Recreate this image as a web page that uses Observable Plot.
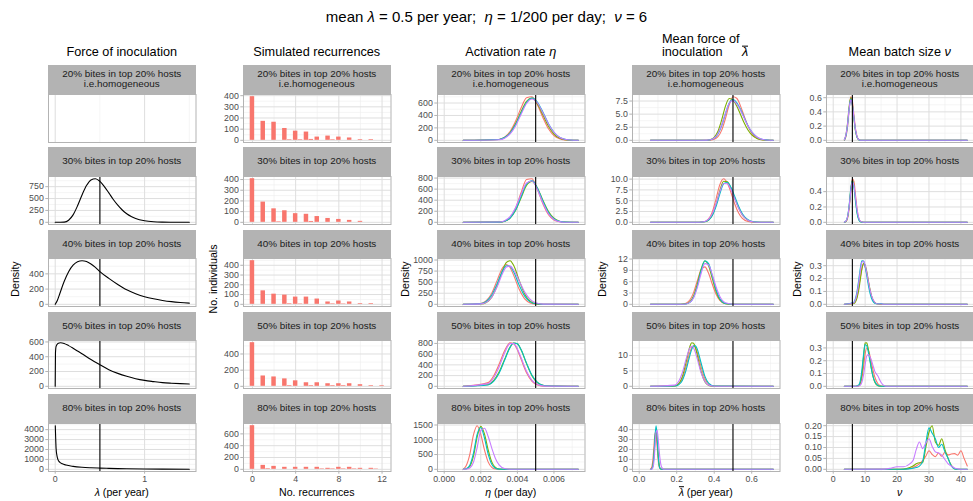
<!DOCTYPE html>
<html>
<head>
<meta charset="utf-8">
<script src="https://cdn.jsdelivr.net/npm/d3@7"></script>
<script src="https://cdn.jsdelivr.net/npm/@observablehq/plot@0.6"></script>
<style>
html,body{margin:0;padding:0;background:#fff;}
#fig{position:relative;width:973px;height:501px;overflow:hidden;background:#fff;font-family:"Liberation Sans",Arial,Helvetica,sans-serif;color:#000;}
.t{position:absolute;white-space:pre;line-height:1;transform:translate(-50%,-50%);}
.strip{position:absolute;background:#b3b3b3;color:#1a1a1a;font-size:9.9px;line-height:1.05;display:flex;align-items:center;justify-content:center;text-align:center;white-space:pre-line;}
.p{position:absolute;}
.ol{display:inline-block;border-top:1px solid currentColor;line-height:0.78;padding-top:1px;}
</style>
</head>
<body>
<div id="fig"></div>
<script>
// ---------------- DATA ----------------
const rowLabels = ["20% bites in top 20% hosts\ni.e.homogeneous","30% bites in top 20% hosts","40% bites in top 20% hosts","50% bites in top 20% hosts","80% bites in top 20% hosts"];
const seriesColors = ["#F8766D","#7CAE00","#00BFC4","#C77CFF"];
const refValues = [0.5, null, 0.005, 0.5, 6];

// Column 1: force of inoculation (lambda, density)
const foiX = [
  [],
  [0,0.1,0.15,0.2,0.25,0.3,0.35,0.4,0.45,0.5,0.55,0.6,0.65,0.7,0.75,0.8,0.85,0.9,1.0,1.1,1.2,1.3,1.5],
  [0,0.025,0.05,0.1,0.15,0.2,0.25,0.3,0.35,0.4,0.45,0.5,0.6,0.7,0.8,0.9,1.0,1.1,1.2,1.3,1.4,1.5],
  [0,0.003,0.01,0.03,0.06,0.1,0.15,0.2,0.3,0.4,0.5,0.6,0.7,0.8,0.9,1.0,1.1,1.2,1.3,1.4,1.5],
  [0.001,0.005,0.01,0.02,0.03,0.05,0.08,0.12,0.2,0.3,0.4,0.5,0.6,0.7,0.8,1.0,1.2,1.5]
];
const foiY = [
  [],
  [0,5,44,156,348,576,773,892,918,862,752,619,480,361,259,180,122,80,33,12,4,1.5,0],
  [0,54,136,300,429,514,560,573,562,530,485,430,340,260,190,140,100,72,51,35,24,16],
  [0,450,540,580,590,580,550,515,440,362,292,225,175,135,103,80,64,50,42,36,31],
  [4400,3200,2100,1350,1000,720,550,430,300,210,160,125,95,70,50,30,18,8]
];

// Column 2: simulated recurrences (histogram bins)
const binWidth = 12/29;
const recX = [
  [0,1,2,3,3.45,4,4.45,5,5.45,6,7,7.45,8,9,10,11],
  [0,1,2,2.45,3,4,5,5.45,6,7,8,9,10],
  [0,1,2,3,3.45,4,4.45,5,6,7,7.45,8,8.45,9,10,11],
  [0,1,2,3,3.45,4,5,5.45,6,7,7.45,8,8.45,9,10,11,12],
  [0,1,1.45,2,3,4,5,6,6.45,7,7.45,8,8.45,9,9.45,10,11,11.45]
];
const recN = [
  [391,170,162,106,5,82,5,74,8,29,38,5,29,21,6,6],
  [408,189,126,5,108,81,75,8,54,36,27,18,9],
  [447,138,104,94,6,74,4,74,54,24,5,34,4,24,7,7],
  [540,128,116,92,8,68,44,8,44,32,8,32,8,32,20,8,8],
  [739,67,10,50,34,34,34,34,8,17,8,34,8,34,8,17,17,6]
];

// Column 3: activation rate eta (per day)
const etaX = [
  [0.00104,0.0030,0.0033,0.0036,0.0039,0.0042,0.0045,0.0048,0.0051,0.0054,0.0057,0.0060,0.0063,0.0066,0.0069,0.00733],
  [0.00104,0.0030,0.0033,0.0036,0.0039,0.0042,0.0045,0.0048,0.0051,0.0054,0.0057,0.0060,0.0063,0.0066,0.00733],
  [0.00104,0.0020,0.0023,0.0026,0.0029,0.0032,0.0034,0.0036,0.0038,0.0041,0.0044,0.0047,0.0050,0.0054,0.00733],
  [0.00104,0.0024,0.0027,0.0030,0.0033,0.0036,0.0038,0.0040,0.0042,0.0045,0.0048,0.0051,0.0055,0.00733],
  [0.00104,0.0012,0.0014,0.0016,0.0018,0.0020,0.0022,0.0024,0.0026,0.0028,0.0030,0.0033,0.0037,0.00733]
];
const etaRed = [
  [0,14,51,141,307,519,684,702,569,364,185,74,24,6,1,0],
  [0,3,20,86,257,534,775,789,592,330,136,42,10,2,0],
  [0,18,80,250,546,831,900,831,653,338,122,31,5,0,0],
  [0,69,193,411,664,814,796,681,507,252,93,25,3,0],
  [8,123,509,1166,1477,1185,660,253,68,12,1,0,0,0]
];
const etaGreen = [
  [0,13,44,122,266,459,627,678,585,406,226,101,36,10,2,0],
  [0,4,20,76,214,440,665,737,617,395,194,73,21,4,0],
  [0,8,43,163,425,775,946,985,874,541,234,70,15,1,0],
  [0,33,107,265,503,731,809,792,681,423,195,67,10,0],
  [0,13,101,445,1086,1460,1201,668,251,64,11,0,0,0]
];
const etaCyan = [
  [0,13,44,117,253,438,609,680,613,450,268,130,51,16,4,0],
  [0,4,20,78,223,461,692,754,616,381,179,64,17,3,0],
  [0,15,67,210,472,761,870,857,728,432,184,56,12,1,0],
  [0,26,92,244,485,726,809,793,685,433,205,72,12,0],
  [0,20,141,548,1184,1418,1060,522,170,36,5,0,0,0]
];
const etaPurple = [
  [0,10,35,102,232,416,592,665,600,440,263,127,50,16,4,0],
  [0,6,30,103,264,503,711,748,589,348,154,52,13,2,0],
  [0,9,44,160,403,709,845,862,774,528,275,111,34,4,0],
  [0,50,155,360,622,797,797,698,536,281,110,32,4,0],
  [0,5,44,238,734,1307,1388,1119,719,368,150,26,1,0]
];

// Column 4: mean force of inoculation lambda-bar (per year)
const lbarX = [
  [0.06,0.33,0.36,0.38,0.40,0.42,0.44,0.46,0.48,0.50,0.52,0.54,0.56,0.58,0.60,0.63,0.66,0.70,0.715],
  [0.06,0.32,0.35,0.37,0.39,0.41,0.43,0.45,0.47,0.49,0.51,0.53,0.55,0.58,0.61,0.65,0.715],
  [0.06,0.22,0.25,0.27,0.29,0.31,0.33,0.35,0.37,0.39,0.41,0.43,0.46,0.50,0.715],
  [0.06,0.19,0.21,0.23,0.25,0.27,0.28,0.29,0.30,0.31,0.33,0.35,0.37,0.40,0.715],
  [0.06,0.065,0.07,0.075,0.08,0.085,0.09,0.095,0.10,0.105,0.11,0.12,0.13,0.14,0.715]
];
const lbarRed = [
  [0,0,0.01,0.04,0.19,0.69,1.95,4.17,6.76,8.33,8.03,6.58,4.59,2.73,1.38,0.37,0.07,0,0],
  [0,0.01,0.18,0.79,2.42,5.45,8.73,10.1,9.1,6.79,4.19,2.14,0.9,0.17,0.02,0,0],
  [0,0.02,0.31,1.15,3.11,6.24,9.17,9.92,8.23,5.31,2.67,1.05,0.16,0,0],
  [0,0.13,0.7,2.52,6.34,10.98,12.6,13.2,12.6,10.98,6.34,2.52,0.7,0.05,0],
  [0,1.33,5.14,14.1,27.1,37,35.7,24.4,11.8,4.0,1.0,0.02,0,0,0]
];
const lbarGreen = [
  [0,0,0.02,0.13,0.56,1.73,3.93,6.52,7.97,7.66,6.53,4.94,3.31,1.98,1.05,0.32,0.08,0,0],
  [0,0.01,0.12,0.52,1.72,4.12,7.32,9.52,9.38,7.8,5.53,3.35,1.72,0.47,0.09,0.01,0],
  [0,0.01,0.13,0.63,2.19,5.36,9.33,11.48,10.22,6.79,3.37,1.24,0.16,0,0],
  [0,0.15,0.82,3.15,7.84,12.91,14.18,14.03,12.51,10.05,4.75,1.47,0.31,0.01,0],
  [0,0.29,1.67,6.54,17.4,31.3,38,31.3,17.4,6.54,1.67,0.03,0,0,0]
];
const lbarCyan = [
  [0,0,0.02,0.11,0.41,1.22,2.81,5.07,7.11,7.79,7.21,5.93,4.33,2.8,1.61,0.56,0.15,0.02,0],
  [0,0.01,0.12,0.5,1.56,3.69,6.59,8.94,9.28,8.04,5.93,3.73,1.99,0.58,0.12,0.01,0],
  [0,0,0.1,0.51,1.89,4.89,8.93,11.57,10.78,7.48,3.87,1.5,0.21,0.01,0],
  [0,0.08,0.48,1.91,5.25,9.98,12.0,13.15,13.15,12.0,7.58,3.31,1.01,0.08,0],
  [0,0.17,1.27,5.95,18.1,35.2,44,35.2,18.1,5.95,1.27,0.02,0,0,0]
];
const lbarPurple = [
  [0,0,0.03,0.12,0.45,1.31,2.96,5.18,7.08,7.58,6.97,5.74,4.23,2.78,1.64,0.6,0.17,0.02,0],
  [0,0.02,0.2,0.72,2.01,4.31,7.11,9.0,8.94,7.5,5.35,3.26,1.69,0.47,0.09,0.01,0],
  [0,0,0.1,0.5,1.76,4.47,8.17,10.78,10.44,7.82,4.58,2.08,0.4,0.02,0],
  [0,0.39,1.56,4.41,8.81,12.45,13.0,12.45,10.93,8.81,4.41,1.56,0.39,0.03,0],
  [0,0.09,0.64,3.2,10.7,24.3,37.3,39.4,32.7,22.1,12.1,1.96,0.14,0,0]
];

// Column 5: mean batch size nu
const nuX = [
  [3.5,4.0,4.5,5.0,5.5,6.0,6.5,7.0,7.5,8.0,8.5,9.5,42],
  [3.5,4.0,4.5,5.0,5.5,6.0,6.5,7.0,7.5,8.0,8.5,9.5,42],
  [3.5,6.5,7.0,7.5,8.0,8.5,9.0,9.5,10.0,10.5,11.0,11.5,12.0,13.0,14.0,15.0,16.0,42],
  [3.5,7.0,8.0,8.5,9.0,9.5,10.0,10.5,11.0,11.5,12.0,12.5,13.0,14.0,15.0,16.0,17.0,42],
  [3.5,16,18,20,22,24,25,26,27,28,29,30,31,32,33,34,35,36,37,38,39,40,41,42]
];
const nuRed = [
  [0.003,0.053,0.192,0.438,0.614,0.555,0.353,0.159,0.051,0.012,0.002,0,0],
  [0.001,0.01,0.052,0.18,0.399,0.569,0.533,0.352,0.164,0.054,0.013,0,0],
  [0,0.01,0.029,0.068,0.133,0.212,0.282,0.31,0.291,0.24,0.175,0.112,0.063,0.014,0.002,0,0,0],
  [0,0,0.004,0.019,0.063,0.15,0.252,0.3,0.284,0.24,0.182,0.123,0.075,0.02,0.003,0,0,0],
  [0,0,0,0,0,0.004,0.008,0.015,0.025,0.04,0.06,0.085,0.068,0.058,0.075,0.06,0.078,0.066,0.07,0.072,0.065,0.085,0.05,0.015]
];
const nuGreen = [
  [0.005,0.081,0.247,0.48,0.6,0.505,0.3,0.126,0.038,0.008,0.001,0,0],
  [0.002,0.013,0.065,0.206,0.42,0.549,0.478,0.294,0.128,0.04,0.009,0,0],
  [0,0.006,0.02,0.052,0.111,0.194,0.276,0.319,0.306,0.256,0.187,0.119,0.066,0.013,0.002,0,0,0],
  [0,0,0.005,0.027,0.097,0.226,0.338,0.341,0.29,0.212,0.134,0.073,0.034,0.005,0,0,0,0],
  [0,0,0,0,0.001,0.008,0.015,0.025,0.03,0.03,0.1,0.17,0.2,0.125,0.11,0.14,0.09,0.05,0.018,0.003,0,0,0,0]
];
const nuCyan = [
  [0.006,0.068,0.218,0.443,0.579,0.504,0.31,0.135,0.042,0.009,0.001,0,0],
  [0.002,0.016,0.073,0.222,0.432,0.54,0.454,0.27,0.114,0.034,0.007,0,0],
  [0,0.017,0.047,0.105,0.19,0.282,0.339,0.337,0.293,0.224,0.151,0.089,0.047,0.009,0.004,0.006,0,0],
  [0,0.001,0.011,0.045,0.128,0.249,0.327,0.317,0.268,0.2,0.131,0.076,0.039,0.007,0.001,0,0,0],
  [0,0,0,0,0,0.003,0.005,0.008,0.015,0.035,0.12,0.19,0.165,0.14,0.1,0.115,0.08,0.05,0.015,0.002,0,0,0,0]
];
const nuPurple = [
  [0.007,0.079,0.23,0.445,0.569,0.5,0.318,0.147,0.049,0.012,0.002,0,0],
  [0.003,0.017,0.072,0.206,0.4,0.526,0.48,0.322,0.158,0.057,0.015,0.001,0],
  [0,0.013,0.038,0.089,0.169,0.261,0.327,0.337,0.305,0.247,0.179,0.116,0.067,0.016,0.002,0.003,0,0],
  [0,0,0.002,0.009,0.034,0.089,0.169,0.237,0.248,0.232,0.2,0.16,0.119,0.08,0.03,0.005,0,0],
  [0,0.001,0.005,0.012,0.012,0.025,0.04,0.09,0.125,0.095,0.12,0.14,0.105,0.08,0.075,0.065,0.045,0.025,0.015,0.006,0.002,0,0,0]
];

// Tick values
const xTickVals = [[0,1],[0,4,8,12],[0,0.002,0.004,0.006],[0,0.2,0.4,0.6],[0,10,20,30,40]];
const foiTicks = [null,[0,250,500,750],[0,200,400],[0,200,400,600],[0,1000,2000,3000,4000]];
const recTicks = [[0,100,200,300,400],[0,100,200,300,400],[0,100,200,300,400],[0,200,400],[0,200,400,600]];
const etaTicks = [[0,200,400,600],[0,200,400,600,800],[0,250,500,750,1000],[0,200,400,600,800],[0,500,1000,1500]];
const lbarTicks = [[0,2.5,5,7.5],[0,2.5,5,7.5,10],[0,3,6,9,12],[0,5,10],[0,10,20,30,40]];
const nuTicks = [[0,0.2,0.4,0.6],[0,0.2,0.4],[0,0.1,0.2,0.3],[0,0.1,0.2,0.3],[0,0.05,0.1,0.15,0.2]];

// ---------------- LAYOUT ----------------
const fig = document.getElementById("fig");
const PW = 147.5, PH = 48, SH = 28.5, ML = 36, MB = 20;
const colLeft = [48, 243, 437, 632, 826];
const rowTop = r => 65 + r * 82.3;
const FONT = '"Liberation Sans",Arial,Helvetica,sans-serif';

function expand([a, b]) { const r = b - a; return [a - 0.05 * r, b + 0.05 * r]; }
function inDom(v, d) { return v >= d[0] && v <= d[1]; }
function minorOf(ticks, dom) {
  const s = ticks[1] - ticks[0], out = [];
  for (let i = -1; i < ticks.length; i++) { const v = ticks[0] + (i + 0.5) * s; if (inDom(v, dom)) out.push(v); }
  return out;
}
function fmtOf(ticks) {
  const dec = d3.max(ticks, t => { const s = String(t); const i = s.indexOf("."); return i < 0 ? 0 : s.length - i - 1; });
  return d => d.toFixed(dec);
}
const pts = (xs, ys) => xs.map((x, i) => ({x, y: ys[i]}));

function addText(html, x, y, size, extra) {
  const d = document.createElement("div");
  d.className = "t";
  d.style.left = x + "px"; d.style.top = y + "px"; d.style.fontSize = size + "px";
  if (extra) d.style.cssText += extra;
  d.innerHTML = html;
  fig.appendChild(d);
  return d;
}

const lineCols = {
  2: {X: etaX, S: [etaRed, etaGreen, etaCyan, etaPurple], T: etaTicks},
  3: {X: lbarX, S: [lbarRed, lbarGreen, lbarCyan, lbarPurple], T: lbarTicks},
  4: {X: nuX, S: [nuRed, nuGreen, nuCyan, nuPurple], T: nuTicks}
};
const xDoms = [
  expand(d3.extent([0, ...foiX.flat()])),
  expand(d3.extent([0, ...recX.flat().map(x => x - binWidth / 2), ...recX.flat().map(x => x + binWidth / 2)])),
  expand(d3.extent([0, ...etaX.flat()])),
  expand(d3.extent([0, ...lbarX.flat()])),
  expand(d3.extent([0, ...nuX.flat()]))
];

const GRID_MAJOR = "#dedede", GRID_MINOR = "#eeeeee";

function makePanel(c, r) {
  const bottom = r === 4;
  const xDom = xDoms[c], xTicks = xTickVals[c];
  let yDom = null, yTicks = null;
  const data = [];
  if (c === 0) {
    if (foiX[r].length) {
      yDom = expand([0, d3.max(foiY[r])]); yTicks = foiTicks[r];
      data.push(Plot.line(pts(foiX[r], foiY[r]), {x: "x", y: "y", stroke: "#000", strokeWidth: 1.1, curve: "monotone-x"}));
      data.push(Plot.ruleX([refValues[0]], {stroke: "#000", strokeWidth: 1.1}));
    }
  } else if (c === 1) {
    yDom = expand([0, d3.max(recN[r])]); yTicks = recTicks[r];
    data.push(Plot.rect(pts(recX[r], recN[r]), {x1: d => d.x - binWidth / 2, x2: d => d.x + binWidth / 2, y1: () => 0, y2: "y", fill: "#F8766D"}));
  } else {
    const L = lineCols[c];
    yDom = expand([0, d3.max(L.S.map(s => d3.max(s[r])))]); yTicks = L.T[r];
    L.S.forEach((s, k) => data.push(Plot.line(pts(L.X[r], s[r]), {x: "x", y: "y", stroke: seriesColors[k], strokeWidth: 1.1, curve: "monotone-x"})));
    data.push(Plot.ruleX([refValues[c]], {stroke: "#000", strokeWidth: 1.1}));
  }
  const marks = [];
  marks.push(Plot.ruleX(minorOf(xTicks, xDom), {stroke: GRID_MINOR, strokeWidth: 0.6}));
  if (yDom) marks.push(Plot.ruleY(minorOf(yTicks, yDom), {stroke: GRID_MINOR, strokeWidth: 0.6}));
  marks.push(Plot.ruleX(xTicks.filter(v => inDom(v, xDom)), {stroke: GRID_MAJOR, strokeWidth: 1}));
  if (yDom) marks.push(Plot.ruleY(yTicks.filter(v => inDom(v, yDom)), {stroke: GRID_MAJOR, strokeWidth: 1}));
  marks.push(...data);
  marks.push(Plot.frame({stroke: "#b3b3b3", strokeWidth: 1}));
  if (yDom) marks.push(Plot.axisY({ticks: yTicks.filter(v => inDom(v, yDom)), tickFormat: fmtOf(yTicks), tickSize: 2.7, tickPadding: 2, fontSize: 8.8, stroke: "#b3b3b3", fill: "#4d4d4d", label: null}));
  if (bottom) marks.push(Plot.axisX({ticks: xTicks, tickFormat: fmtOf(xTicks), tickSize: 2.7, tickPadding: 2, fontSize: 8.8, stroke: "#b3b3b3", fill: "#4d4d4d", label: null}));
  const opts = {
    width: ML + PW, height: PH + (bottom ? MB : 0),
    marginLeft: ML, marginRight: 0, marginTop: 0, marginBottom: bottom ? MB : 0,
    x: {domain: xDom, axis: null},
    style: {fontFamily: FONT, background: "transparent", overflow: "visible"},
    marks
  };
  if (yDom) opts.y = {domain: yDom, axis: null};
  const svg = Plot.plot(opts);
  const wrap = document.createElement("div");
  wrap.className = "p";
  wrap.style.left = (colLeft[c] - ML) + "px";
  wrap.style.top = (rowTop(r) + SH) + "px";
  wrap.style.width = (ML + PW) + "px";
  wrap.appendChild(svg);
  fig.appendChild(wrap);

  const strip = document.createElement("div");
  strip.className = "strip";
  strip.style.left = colLeft[c] + "px";
  strip.style.top = rowTop(r) + "px";
  strip.style.width = PW + "px";
  strip.style.height = SH + "px";
  strip.textContent = rowLabels[r];
  fig.appendChild(strip);
}

for (let c = 0; c < 5; c++) for (let r = 0; r < 5; r++) makePanel(c, r);

// ---------------- TEXT ----------------
const cx = c => colLeft[c] + PW / 2;
addText('mean <i>λ</i> = 0.5 per year;  <i>η</i> = 1/200 per day;  <i>ν</i> = 6', 486.5, 16, 15);
addText('Force of inoculation', cx(0), 52, 12.7);
addText('Simulated recurrences', cx(1), 52, 12.7);
addText('Activation rate <i>η</i>', cx(2), 52, 12.7);
addText('Mean force of', 662, 38.5, 12.7, 'transform:translate(0,-50%);');
addText('inoculation', 662, 52, 12.7, 'transform:translate(0,-50%);');
addText('<i class="ol">λ</i>', 742, 52, 12.7, 'transform:translate(0,-50%);');
addText('Mean batch size <i>ν</i>', cx(4), 52, 12.7);

const yTitles = ["Density", "No. individuals", "Density", "Density", "Density"];
const yTitleX = [15, 213, 405, 602, 797];
yTitles.forEach((t, c) => addText(t, yTitleX[c], 279, 10.6, 'transform:translate(-50%,-50%) rotate(-90deg);'));

const xTitles = ['<i>λ</i> (per year)', 'No. recurrences', '<i>η</i> (per day)', '<i class="ol">λ</i> (per year)', '<i>ν</i>'];
xTitles.forEach((t, c) => addText(t, cx(c), 492, 10.6));
</script>
</body>
</html>
